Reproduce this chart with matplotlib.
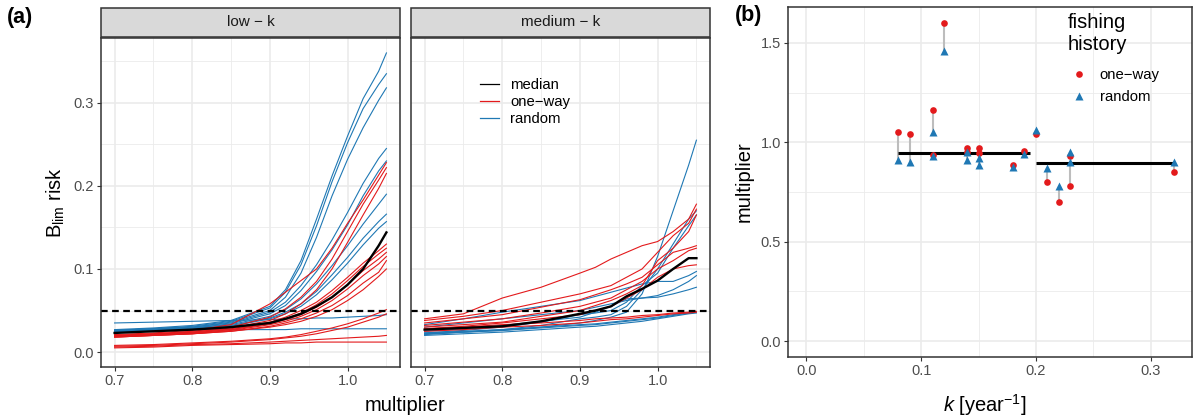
import matplotlib

matplotlib.use("Agg")
import matplotlib.pyplot as plt
from matplotlib.lines import Line2D
from matplotlib.patches import Rectangle
from matplotlib.ticker import MultipleLocator

plt.rcParams["font.family"] = ["Liberation Sans", "DejaVu Sans"]
plt.rcParams["mathtext.fontset"] = "custom"
plt.rcParams["mathtext.rm"] = "Liberation Sans"
plt.rcParams["mathtext.it"] = "Liberation Sans:italic"

RED = "#E31A1C"
BLUE = "#1F78B4"
GRID = "#EBEBEB"
BORDER = "#333333"
TICKTXT = "#4D4D4D"

# ---- panel (a): risk vs multiplier ----
multiplier = [0.70, 0.75, 0.80, 0.85, 0.90, 0.92, 0.94, 0.96, 0.98, 1.00, 1.02, 1.04, 1.05]

low_random = [
    [0.027, 0.029, 0.032, 0.038, 0.055, 0.075, 0.110, 0.160, 0.212, 0.260, 0.305, 0.338, 0.360],
    [0.026, 0.028, 0.031, 0.037, 0.053, 0.072, 0.105, 0.152, 0.205, 0.252, 0.293, 0.322, 0.335],
    [0.026, 0.028, 0.030, 0.036, 0.050, 0.066, 0.095, 0.138, 0.188, 0.232, 0.270, 0.303, 0.318],
    [0.026, 0.028, 0.030, 0.035, 0.048, 0.060, 0.080, 0.105, 0.135, 0.168, 0.203, 0.233, 0.245],
    [0.025, 0.027, 0.029, 0.034, 0.046, 0.056, 0.074, 0.097, 0.123, 0.153, 0.188, 0.218, 0.230],
    [0.025, 0.027, 0.029, 0.033, 0.043, 0.051, 0.064, 0.082, 0.104, 0.128, 0.154, 0.178, 0.190],
    [0.025, 0.026, 0.028, 0.032, 0.041, 0.048, 0.058, 0.073, 0.093, 0.114, 0.137, 0.157, 0.166],
    [0.024, 0.026, 0.028, 0.031, 0.040, 0.046, 0.055, 0.069, 0.087, 0.107, 0.129, 0.149, 0.157],
    [0.035, 0.036, 0.037, 0.038, 0.039, 0.040, 0.040, 0.041, 0.041, 0.042, 0.043, 0.044, 0.045],
    [0.026, 0.026, 0.027, 0.027, 0.027, 0.027, 0.028, 0.028, 0.028, 0.028, 0.028, 0.028, 0.028],
]
low_oneway = [
    [0.021, 0.023, 0.026, 0.033, 0.058, 0.072, 0.086, 0.100, 0.125, 0.155, 0.183, 0.213, 0.228],
    [0.020, 0.022, 0.025, 0.030, 0.042, 0.052, 0.066, 0.085, 0.112, 0.145, 0.178, 0.207, 0.222],
    [0.020, 0.022, 0.024, 0.029, 0.038, 0.046, 0.058, 0.075, 0.100, 0.132, 0.165, 0.197, 0.215],
    [0.019, 0.021, 0.024, 0.028, 0.036, 0.042, 0.050, 0.060, 0.074, 0.090, 0.107, 0.122, 0.130],
    [0.019, 0.021, 0.023, 0.027, 0.035, 0.040, 0.047, 0.057, 0.070, 0.086, 0.103, 0.118, 0.125],
    [0.019, 0.021, 0.023, 0.027, 0.034, 0.039, 0.045, 0.054, 0.066, 0.081, 0.098, 0.112, 0.120],
    [0.018, 0.020, 0.022, 0.026, 0.033, 0.037, 0.043, 0.051, 0.062, 0.076, 0.092, 0.106, 0.115],
    [0.018, 0.020, 0.022, 0.025, 0.031, 0.035, 0.040, 0.047, 0.056, 0.068, 0.083, 0.096, 0.110],
    [0.018, 0.020, 0.022, 0.025, 0.030, 0.033, 0.037, 0.043, 0.051, 0.062, 0.075, 0.091, 0.100],
    [0.008, 0.009, 0.011, 0.013, 0.016, 0.018, 0.021, 0.025, 0.029, 0.034, 0.040, 0.047, 0.051],
    [0.007, 0.008, 0.010, 0.012, 0.015, 0.017, 0.019, 0.022, 0.026, 0.030, 0.036, 0.042, 0.046],
    [0.006, 0.007, 0.009, 0.010, 0.012, 0.013, 0.014, 0.015, 0.016, 0.017, 0.018, 0.019, 0.020],
    [0.005, 0.006, 0.008, 0.009, 0.010, 0.011, 0.011, 0.012, 0.012, 0.012, 0.012, 0.012, 0.012],
]
low_median = [0.023, 0.025, 0.027, 0.030, 0.035, 0.040, 0.046, 0.055, 0.066, 0.081, 0.100, 0.128, 0.144]

med_random = [
    [0.022, 0.024, 0.026, 0.030, 0.035, 0.038, 0.042, 0.048, 0.070, 0.115, 0.170, 0.225, 0.255],
    [0.021, 0.024, 0.027, 0.032, 0.040, 0.042, 0.045, 0.055, 0.075, 0.100, 0.130, 0.160, 0.170],
    [0.023, 0.026, 0.030, 0.036, 0.045, 0.047, 0.050, 0.060, 0.080, 0.095, 0.125, 0.152, 0.165],
    [0.033, 0.040, 0.048, 0.055, 0.062, 0.067, 0.072, 0.077, 0.082, 0.085, 0.085, 0.092, 0.097],
    [0.030, 0.035, 0.040, 0.045, 0.050, 0.054, 0.058, 0.062, 0.065, 0.068, 0.075, 0.085, 0.092],
    [0.025, 0.028, 0.032, 0.037, 0.042, 0.048, 0.055, 0.064, 0.065, 0.066, 0.070, 0.075, 0.078],
    [0.020, 0.022, 0.024, 0.027, 0.030, 0.031, 0.033, 0.035, 0.037, 0.040, 0.043, 0.046, 0.047],
    [0.022, 0.024, 0.026, 0.029, 0.032, 0.033, 0.035, 0.037, 0.039, 0.041, 0.044, 0.047, 0.048],
    [0.023, 0.025, 0.027, 0.030, 0.033, 0.034, 0.036, 0.038, 0.040, 0.042, 0.045, 0.047, 0.048],
]
med_oneway = [
    [0.040, 0.046, 0.065, 0.078, 0.095, 0.102, 0.112, 0.120, 0.128, 0.133, 0.145, 0.160, 0.178],
    [0.038, 0.043, 0.050, 0.060, 0.070, 0.075, 0.080, 0.090, 0.100, 0.120, 0.140, 0.155, 0.172],
    [0.035, 0.040, 0.045, 0.054, 0.063, 0.069, 0.075, 0.082, 0.090, 0.105, 0.120, 0.125, 0.128],
    [0.032, 0.036, 0.040, 0.047, 0.055, 0.060, 0.065, 0.075, 0.085, 0.100, 0.110, 0.122, 0.125],
    [0.028, 0.031, 0.035, 0.040, 0.045, 0.050, 0.055, 0.065, 0.075, 0.090, 0.100, 0.104, 0.105],
    [0.030, 0.033, 0.036, 0.043, 0.050, 0.056, 0.062, 0.070, 0.080, 0.110, 0.125, 0.145, 0.165],
    [0.025, 0.027, 0.030, 0.032, 0.035, 0.037, 0.039, 0.040, 0.042, 0.044, 0.046, 0.047, 0.048],
    [0.028, 0.030, 0.033, 0.035, 0.038, 0.040, 0.041, 0.042, 0.044, 0.045, 0.047, 0.048, 0.049],
]
med_median = [0.027, 0.029, 0.031, 0.037, 0.046, 0.050, 0.055, 0.067, 0.076, 0.086, 0.100, 0.113, 0.113]

risk_limit = 0.05
facet_labels = ["low \u2212 k", "medium \u2212 k"]

# ---- panel (b): multiplier vs k ----
k_pair = [0.08, 0.09, 0.11, 0.11, 0.12, 0.14, 0.14, 0.15, 0.15, 0.18, 0.19, 0.20, 0.21, 0.22, 0.23, 0.23, 0.32]
mult_oneway = [1.05, 1.04, 1.16, 0.935, 1.60, 0.97, 0.95, 0.97, 0.945, 0.888, 0.958, 1.04, 0.80, 0.70, 0.93, 0.78, 0.85]
mult_random = [0.913, 0.90, 1.052, 0.932, 1.46, 0.913, 0.95, 0.92, 0.884, 0.873, 0.943, 1.06, 0.87, 0.78, 0.95, 0.90, 0.90]
median_k_from = [0.08, 0.20]
median_k_to = [0.195, 0.32]
median_mult = [0.948, 0.898]

W, H = 1194, 419
fig = plt.figure(figsize=(W / 100, H / 100), dpi=100)

TICK_FS = 10.5
TITLE_FS = 14.5


def px_axes(x0, y0, x1, y1):
    return fig.add_axes([x0 / W, 1 - y1 / H, (x1 - x0) / W, (y1 - y0) / H])


def style(ax):
    ax.set_facecolor("white")
    ax.grid(True, which="major", color=GRID, lw=1.2)
    ax.grid(True, which="minor", color=GRID, lw=0.6)
    ax.set_axisbelow(True)
    for s in ax.spines.values():
        s.set_color(BORDER)
        s.set_linewidth(1.1)
    ax.tick_params(which="major", length=3, width=0.8, color=BORDER,
                   labelsize=TICK_FS, labelcolor=TICKTXT, pad=2)
    ax.tick_params(which="minor", length=0)


ax_low = px_axes(101, 38, 400, 367)
ax_med = px_axes(411, 38, 710, 367)

for ax, rnd, one, med, lab in [(ax_low, low_random, low_oneway, low_median, facet_labels[0]),
                               (ax_med, med_random, med_oneway, med_median, facet_labels[1])]:
    style(ax)
    for ys in rnd:
        ax.plot(multiplier, ys, color=BLUE, lw=0.8)
    for ys in one:
        ax.plot(multiplier, ys, color=RED, lw=0.8)
    ax.plot(multiplier, med, color="black", lw=1.7)
    ax.axhline(risk_limit, color="black", lw=1.6, dashes=(3, 2))
    ax.set_xlim(0.6825, 1.0675)
    ax.set_ylim(-0.018, 0.378)
    ax.xaxis.set_major_locator(MultipleLocator(0.1))
    ax.xaxis.set_minor_locator(MultipleLocator(0.05))
    ax.yaxis.set_major_locator(MultipleLocator(0.1))
    ax.yaxis.set_minor_locator(MultipleLocator(0.05))
    ax.set_xticks([0.7, 0.8, 0.9, 1.0])
    ax.set_xticklabels(["0.7", "0.8", "0.9", "1.0"])
    # facet strip
    x0, x1 = ax.get_position().x0, ax.get_position().x1
    fig.patches.append(Rectangle((x0, 1 - 37 / H), x1 - x0, 29 / H, transform=fig.transFigure,
                                 facecolor="#D9D9D9", edgecolor=BORDER, lw=1.1))
    fig.text((x0 + x1) / 2, 1 - 22.5 / H, lab, ha="center", va="center", fontsize=11, color="#1A1A1A")

ax_low.set_yticks([0.0, 0.1, 0.2, 0.3])
ax_low.set_yticklabels(["0.0", "0.1", "0.2", "0.3"])
ax_med.tick_params(axis="y", labelleft=False, length=0)
ax_low.set_ylabel(r"$\mathregular{B_{lim}}$ risk", fontsize=TITLE_FS, labelpad=5)
fig.text(405 / W, 1 - 405 / H, "multiplier", ha="center", va="center", fontsize=TITLE_FS)

handles = [Line2D([], [], color="black", lw=0.9), Line2D([], [], color=RED, lw=0.9),
           Line2D([], [], color=BLUE, lw=0.9)]
ax_med.legend(handles, ["median", "one\u2212way", "random"], loc="upper left",
              bbox_to_anchor=(480 / W, 1 - 78 / H), bbox_transform=fig.transFigure,
              frameon=False, fontsize=10.7, handlelength=1.3, handletextpad=0.75,
              labelspacing=0.2, borderpad=0, borderaxespad=0)

fig.text(7 / W, 1 - 18 / H, "(a)", fontsize=15.5, fontweight="bold", ha="left", va="center")

# panel (b)
ax_b = px_axes(788, 7, 1192, 357)
style(ax_b)
ax_b.vlines(k_pair, mult_oneway, mult_random, color="#BDBDBD", lw=1.5, zorder=2)
ax_b.hlines(median_mult, median_k_from, median_k_to, color="black", lw=2.2, zorder=3)
ax_b.plot(k_pair, mult_oneway, "o", color=RED, ms=4.8, mec="none", zorder=4)
ax_b.plot(k_pair, mult_random, "^", color=BLUE, ms=5.8, mec="none", zorder=4)
ax_b.set_xlim(-0.016, 0.336)
ax_b.set_ylim(-0.08, 1.68)
ax_b.xaxis.set_major_locator(MultipleLocator(0.1))
ax_b.xaxis.set_minor_locator(MultipleLocator(0.05))
ax_b.yaxis.set_major_locator(MultipleLocator(0.5))
ax_b.yaxis.set_minor_locator(MultipleLocator(0.25))
ax_b.set_xticks([0.0, 0.1, 0.2, 0.3])
ax_b.set_xticklabels(["0.0", "0.1", "0.2", "0.3"])
ax_b.set_yticks([0.0, 0.5, 1.0, 1.5])
ax_b.set_yticklabels(["0.0", "0.5", "1.0", "1.5"])
ax_b.set_ylabel("multiplier", fontsize=TITLE_FS, labelpad=5)
fig.text(985 / W, 1 - 405 / H, r"$\it{k}$ [year$^{-1}$]", ha="center", va="center", fontsize=TITLE_FS)

hb = [Line2D([], [], ls="none", marker="o", color=RED, ms=4.8, mec="none"),
      Line2D([], [], ls="none", marker="^", color=BLUE, ms=5.8, mec="none")]
fig.text(1068 / W, 1 - 13 / H, "fishing\nhistory", fontsize=TITLE_FS, ha="left", va="top",
         linespacing=1.2)
ax_b.legend(hb, ["one\u2212way", "random"], loc="upper left",
            bbox_to_anchor=(1070 / W, 1 - 68 / H), bbox_transform=fig.transFigure,
            frameon=False, fontsize=10.7, handlelength=1.2, handletextpad=0.8,
            labelspacing=0.55, borderpad=0, borderaxespad=0)

fig.text(735 / W, 1 - 16 / H, "(b)", fontsize=15.5, fontweight="bold", ha="left", va="center")

fig.savefig("out.png", dpi=100, facecolor="white")
